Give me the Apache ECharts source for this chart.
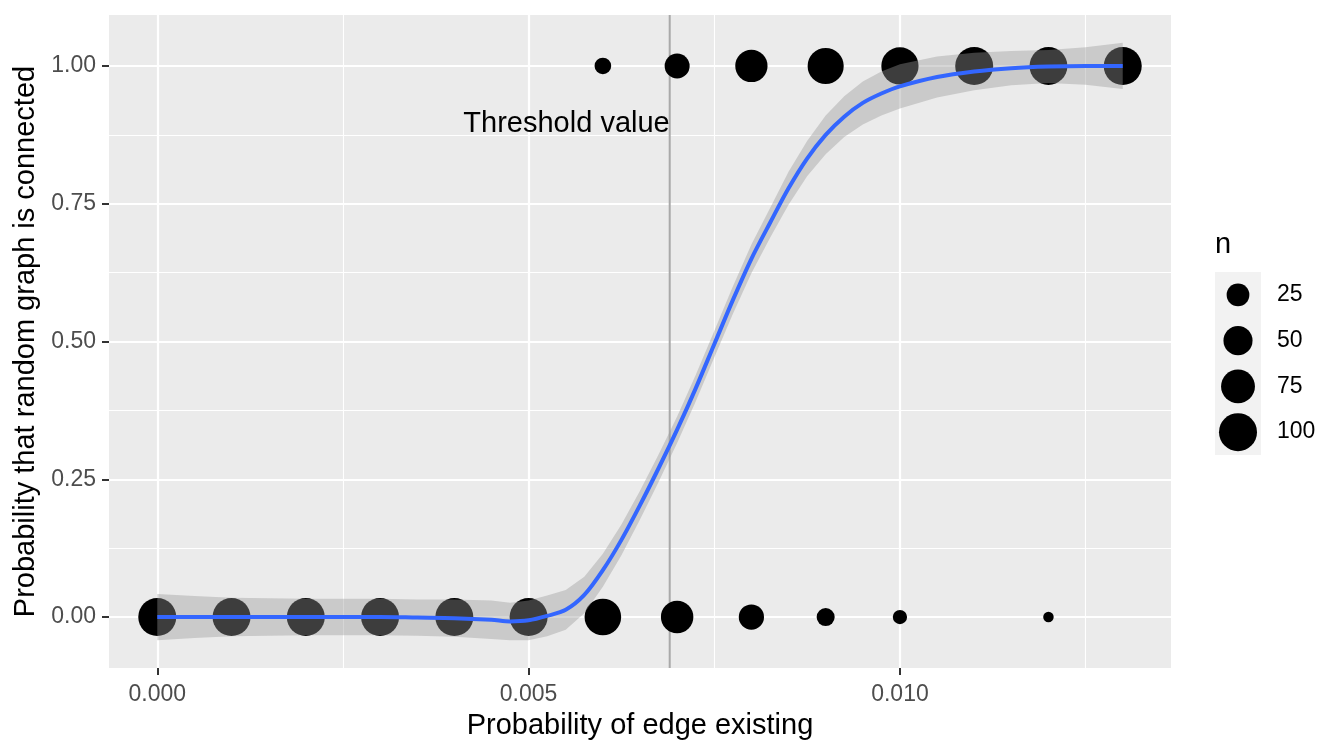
<!DOCTYPE html>
<html>
<head>
<meta charset="utf-8">
<script src="https://cdn.jsdelivr.net/npm/echarts@6/dist/echarts.min.js"></script>
<style>
  html, body { margin: 0; padding: 0; background: #fff; }
  #chart { width: 1344px; height: 756px; }
</style>
</head>
<body>
<div id="chart"></div>
<script>
// 连通 (y = 1) 的点
var connectedX = [0.006, 0.007, 0.008, 0.009, 0.010, 0.011, 0.012, 0.013];
var connectedN = [9, 33, 66, 88, 95, 100, 99, 100];
// 不连通 (y = 0) 的点
var notConnectedX = [0, 0.001, 0.002, 0.003, 0.004, 0.005, 0.006, 0.007, 0.008, 0.009, 0.010, 0.012];
var notConnectedN = [100, 100, 100, 100, 100, 100, 91, 67, 34, 12, 5, 1];

// 平滑曲线和置信带
var smoothX = [0, 0.0005, 0.001, 0.0015, 0.002, 0.0025, 0.003, 0.0035, 0.004, 0.0045, 0.00475,
  0.005, 0.00525, 0.0055, 0.00575, 0.006, 0.00625, 0.0065, 0.00675, 0.007, 0.00725, 0.0075,
  0.00775, 0.008, 0.00825, 0.0085, 0.00875, 0.009, 0.00925, 0.0095, 0.00975, 0.010,
  0.0105, 0.011, 0.0115, 0.012, 0.0125, 0.013];
var smoothY = [0, 0, 0, 0, 0, 0, 0, -0.001, -0.002, -0.005, -0.008,
  -0.006, 0.002, 0.013, 0.040, 0.085, 0.140, 0.203, 0.270, 0.340, 0.415, 0.495,
  0.575, 0.650, 0.715, 0.778, 0.832, 0.875, 0.908, 0.933, 0.950, 0.963,
  0.980, 0.990, 0.996, 0.999, 1.000, 1.000];
var smoothLower = [-0.042, -0.038, -0.035, -0.034, -0.033, -0.033, -0.033, -0.034, -0.036, -0.040, -0.042,
  -0.042, -0.035, -0.023, 0.007, 0.055, 0.112, 0.177, 0.245, 0.316, 0.391, 0.471,
  0.550, 0.624, 0.688, 0.748, 0.800, 0.840, 0.871, 0.894, 0.910, 0.923,
  0.943, 0.956, 0.965, 0.969, 0.966, 0.958];
var smoothUpper = [0.042, 0.038, 0.035, 0.034, 0.033, 0.033, 0.033, 0.032, 0.032, 0.030, 0.026,
  0.030, 0.039, 0.049, 0.073, 0.115, 0.168, 0.229, 0.295, 0.364, 0.439, 0.519,
  0.600, 0.676, 0.742, 0.808, 0.864, 0.910, 0.945, 0.972, 0.990, 1.003,
  1.017, 1.024, 1.027, 1.029, 1.034, 1.042];

var thresholdX = 0.0069;
var thresholdLabelY = 0.895;

var xRange = [-0.00065, 0.01365];
var yRange = [-0.0925, 1.0925];
var xTicks = [0, 0.005, 0.010];
var xMinorTicks = [0.0025, 0.0075, 0.0125];
var yTicks = [0, 0.25, 0.5, 0.75, 1];
var yMinorTicks = [0.125, 0.375, 0.625, 0.875];
var legendN = [25, 50, 75, 100];

var FONT = 'Liberation Sans, Arial, Helvetica, sans-serif';

// ggplot 的面积比例尺: sqrt(n) 映射到 1..6
function pointSize(n) {
  var s = 1 + 5 * (Math.sqrt(n) - 1) / 9;
  return 5 + 5.5 * s;
}

var chart = echarts.init(document.getElementById('chart'));

var option = {
  animation: false,
  backgroundColor: '#ffffff',
  title: {
    text: 'n',
    left: 1215,
    top: 230,
    padding: 0,
    textStyle: { fontFamily: FONT, fontSize: 29, fontWeight: 'normal', color: '#000' }
  },
  grid: [{
    left: 109,
    top: 15,
    width: 1062,
    height: 653,
    show: true,
    backgroundColor: '#EBEBEB',
    borderWidth: 0
  }, {
    left: 1215,
    top: 272,
    width: 46,
    height: 183,
    show: true,
    backgroundColor: '#F2F2F2',
    borderWidth: 0
  }],
  xAxis: [{
    type: 'value',
    gridIndex: 0,
    min: xRange[0],
    max: xRange[1],
    name: 'Probability of edge existing',
    nameLocation: 'middle',
    nameGap: 43,
    nameTextStyle: { fontFamily: FONT, fontSize: 29, color: '#000' },
    axisLine: { show: false, onZero: false },
    axisTick: { show: true, length: 7, customValues: xTicks, lineStyle: { color: '#333333', width: 2 } },
    axisLabel: {
      customValues: xTicks, margin: 15, fontFamily: FONT, fontSize: 23, color: '#4D4D4D',
      formatter: function (v) { return v.toFixed(3); }
    },
    splitLine: { show: true, lineStyle: { color: '#FFFFFF', width: 2.2 } }
  }, {
    type: 'value',
    gridIndex: 0,
    position: 'top',
    min: xRange[0],
    max: xRange[1],
    axisLine: { show: false, onZero: false },
    axisTick: { show: false, customValues: xMinorTicks },
    axisLabel: { show: false, customValues: xMinorTicks },
    splitLine: { show: true, lineStyle: { color: '#FFFFFF', width: 1.1 } }
  }, {
    type: 'value',
    gridIndex: 1,
    min: 0,
    max: 1,
    show: false
  }],
  yAxis: [{
    type: 'value',
    gridIndex: 0,
    min: yRange[0],
    max: yRange[1],
    name: 'Probability that random graph is connected',
    nameLocation: 'middle',
    nameGap: 67,
    nameTextStyle: { fontFamily: FONT, fontSize: 29, color: '#000' },
    axisLine: { show: false, onZero: false },
    axisTick: { show: true, length: 7, customValues: yTicks, lineStyle: { color: '#333333', width: 2 } },
    axisLabel: {
      customValues: yTicks, margin: 13, fontFamily: FONT, fontSize: 23, color: '#4D4D4D',
      formatter: function (v) { return v.toFixed(2); }
    },
    splitLine: { show: true, lineStyle: { color: '#FFFFFF', width: 2.2 } }
  }, {
    type: 'value',
    gridIndex: 0,
    position: 'right',
    min: yRange[0],
    max: yRange[1],
    axisLine: { show: false, onZero: false },
    axisTick: { show: false, customValues: yMinorTicks },
    axisLabel: { show: false, customValues: yMinorTicks },
    splitLine: { show: true, lineStyle: { color: '#FFFFFF', width: 1.1 } }
  }, {
    type: 'category',
    gridIndex: 1,
    position: 'right',
    inverse: true,
    data: legendN.map(String),
    axisLine: { show: false },
    axisTick: { show: false },
    splitLine: { show: false },
    axisLabel: { margin: 16, fontFamily: FONT, fontSize: 23, color: '#000' }
  }],
  series: [{
    name: 'threshold line',
    type: 'line',
    xAxisIndex: 0,
    yAxisIndex: 0,
    z: 1,
    silent: true,
    showSymbol: false,
    lineStyle: { color: '#A9A9A9', width: 2 },
    data: [[thresholdX, yRange[0]], [thresholdX, yRange[1]]]
  }, {
    name: 'threshold label',
    type: 'scatter',
    xAxisIndex: 0,
    yAxisIndex: 0,
    z: 1,
    silent: true,
    symbolSize: 0,
    itemStyle: { opacity: 1 },
    data: [[thresholdX, thresholdLabelY]],
    label: {
      show: true,
      position: 'left',
      distance: 0,
      formatter: 'Threshold value',
      fontFamily: FONT,
      fontSize: 29,
      color: '#000'
    }
  }, {
    name: 'not connected',
    type: 'scatter',
    xAxisIndex: 0,
    yAxisIndex: 0,
    z: 2,
    itemStyle: { color: '#000', opacity: 1 },
    symbolSize: function (v) { return pointSize(v[2]); },
    data: notConnectedX.map(function (x, i) { return [x, 0, notConnectedN[i]]; })
  }, {
    name: 'connected',
    type: 'scatter',
    xAxisIndex: 0,
    yAxisIndex: 0,
    z: 2,
    itemStyle: { color: '#000', opacity: 1 },
    symbolSize: function (v) { return pointSize(v[2]); },
    data: connectedX.map(function (x, i) { return [x, 1, connectedN[i]]; })
  }, {
    name: 'band',
    type: 'custom',
    xAxisIndex: 0,
    yAxisIndex: 0,
    z: 3,
    silent: true,
    data: smoothX.map(function (x, i) { return [x, smoothLower[i], smoothUpper[i]]; }),
    encode: { x: 0, y: [1, 2] },
    renderItem: function (params, api) {
      if (params.dataIndex !== 0) return;
      var upper = [], lower = [];
      for (var i = 0; i < smoothX.length; i++) {
        upper.push(api.coord([smoothX[i], smoothUpper[i]]));
        lower.push(api.coord([smoothX[i], smoothLower[i]]));
      }
      return {
        type: 'polygon',
        shape: { points: upper.concat(lower.reverse()) },
        style: { fill: '#999999', opacity: 0.4 }
      };
    }
  }, {
    name: 'smooth',
    type: 'line',
    xAxisIndex: 0,
    yAxisIndex: 0,
    z: 4,
    silent: true,
    smooth: 0.3,
    showSymbol: false,
    lineStyle: { color: '#3366FF', width: 4 },
    data: smoothX.map(function (x, i) { return [x, smoothY[i]]; })
  }, {
    name: 'legend',
    type: 'scatter',
    xAxisIndex: 2,
    yAxisIndex: 2,
    silent: true,
    itemStyle: { color: '#000', opacity: 1 },
    symbolSize: function (v, p) { return pointSize(legendN[p.dataIndex]); },
    data: legendN.map(function (n) { return [0.5, String(n)]; })
  }]
};

chart.setOption(option);
</script>
</body>
</html>
